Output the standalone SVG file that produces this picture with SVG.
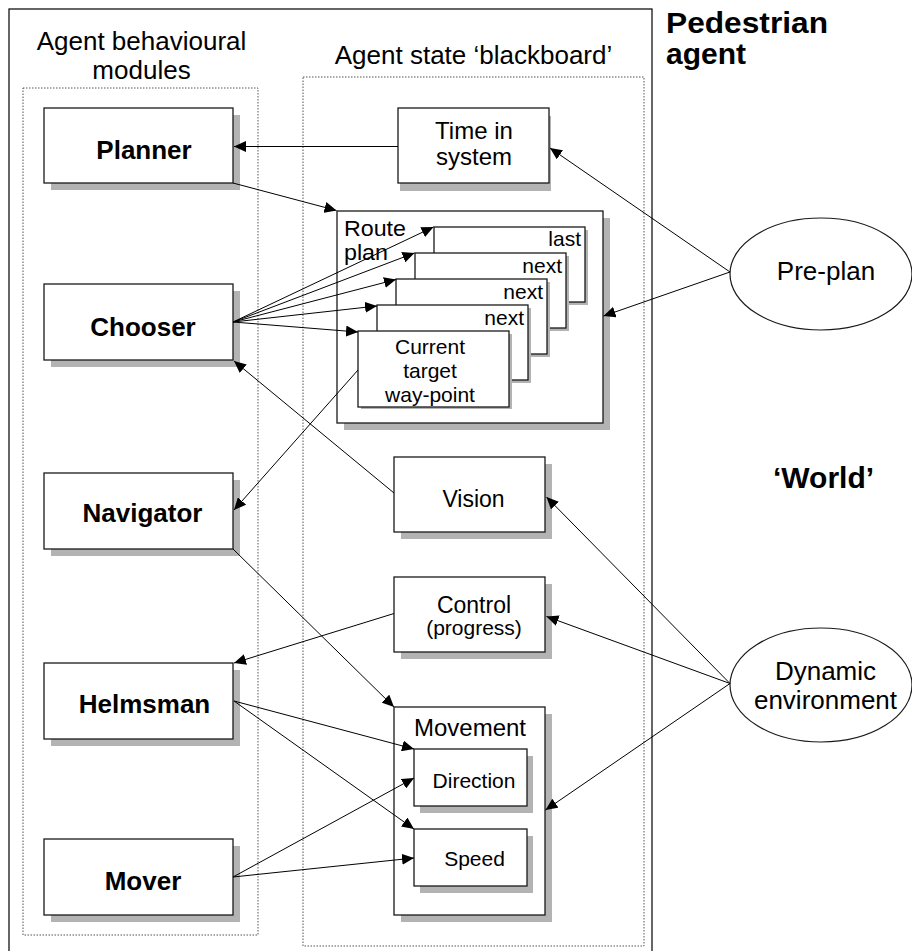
<svg xmlns="http://www.w3.org/2000/svg" width="912" height="951" viewBox="0 0 912 951">
<style>
.box{fill:#fff;stroke:#1a1a1a;stroke-width:1.3}
.sh{fill:#b3b3b3}
.dot{fill:none;stroke:#555;stroke-width:1;stroke-dasharray:1.5 1.5}
.frame{fill:none;stroke:#000;stroke-width:1.2}
.ell{fill:#fff;stroke:#1a1a1a;stroke-width:1.2}
.conn line{stroke:#000;stroke-width:1;marker-end:url(#ah)}
text{font-family:"Liberation Sans",Arial,sans-serif;fill:#000}
.b{font-weight:bold;font-size:26px;text-anchor:middle}
.t{font-size:24px;text-anchor:middle}
.s{font-size:21px;text-anchor:middle}
.r{font-size:21px;text-anchor:end}
.h{font-size:26px;text-anchor:middle}
.big{font-weight:bold;font-size:30px}
</style>
<defs>
<marker id="ah" markerUnits="userSpaceOnUse" markerWidth="12" markerHeight="11" refX="12" refY="5.5" orient="auto">
<path d="M0,0 L12,5.5 L0,11 z" fill="#000"/>
</marker>
</defs>
<rect width="912" height="951" fill="#fff"/>

<g id="pedestrian-agent">
<rect class="frame" x="9" y="9" width="643" height="960"/>
<text class="big" x="666" y="33" textLength="162" lengthAdjust="spacingAndGlyphs">Pedestrian</text>
<text class="big" x="666" y="64">agent</text>
</g>
<g id="world-label"><text class="big" x="773" y="488">‘World’</text></g>

<g id="behavioural-modules">
<rect class="dot" x="23" y="88" width="235" height="847"/>
<text class="h" x="141.5" y="50">Agent behavioural</text>
<text class="h" x="141.5" y="79">modules</text>
</g>
<g id="blackboard">
<rect class="dot" x="303" y="77" width="341" height="869"/>
<text class="h" x="473.5" y="64">Agent state ‘blackboard’</text>
</g>

<g id="planner"><rect class="sh" x="51" y="115" width="189" height="75"/><rect class="box" x="44" y="108" width="189" height="75"/><text class="b" x="144" y="159">Planner</text></g>
<g id="chooser"><rect class="sh" x="51" y="291" width="189" height="76"/><rect class="box" x="44" y="284" width="189" height="76"/><text class="b" x="143" y="336">Chooser</text></g>
<g id="navigator"><rect class="sh" x="51" y="480" width="189" height="76"/><rect class="box" x="44" y="473" width="189" height="76"/><text class="b" x="142.5" y="522">Navigator</text></g>
<g id="helmsman"><rect class="sh" x="51" y="670" width="189" height="76"/><rect class="box" x="44" y="663" width="189" height="76"/><text class="b" x="144.5" y="713">Helmsman</text></g>
<g id="mover"><rect class="sh" x="51" y="846" width="189" height="76"/><rect class="box" x="44" y="839" width="189" height="76"/><text class="b" x="143" y="890">Mover</text></g>

<g id="time-in-system"><rect class="sh" x="400" y="116" width="151" height="75"/><rect class="box" x="398" y="108" width="151" height="75"/><text class="t" x="474" y="139">Time in</text><text class="t" x="474" y="165">system</text></g>

<g id="route-plan">
<rect class="sh" x="344" y="218" width="266" height="212"/>
<rect class="box" x="337" y="211" width="266" height="212"/>
<text x="344" y="235.5" style="font-size:22px" textLength="62" lengthAdjust="spacingAndGlyphs">Route</text>
<text x="344" y="260" style="font-size:22px" textLength="44" lengthAdjust="spacingAndGlyphs">plan</text>
</g>
<g id="wp-last"><rect class="sh" x="437" y="230" width="151" height="75"/><rect class="box" x="434" y="227" width="151" height="75"/><text class="r" x="581" y="246">last</text></g>
<g id="wp-next-1"><rect class="sh" x="418" y="256" width="151" height="75"/><rect class="box" x="415" y="253" width="151" height="75"/><text class="r" x="562" y="272.5">next</text></g>
<g id="wp-next-2"><rect class="sh" x="399" y="282" width="151" height="75"/><rect class="box" x="396" y="279" width="151" height="75"/><text class="r" x="543" y="299">next</text></g>
<g id="wp-next-3"><rect class="sh" x="380" y="308" width="151" height="75"/><rect class="box" x="377" y="305" width="151" height="75"/><text class="r" x="524" y="325">next</text></g>
<g id="wp-current"><rect class="sh" x="361" y="334" width="151" height="75"/><rect class="box" x="358" y="331" width="151" height="76"/><text class="s" x="430" y="354">Current</text><text class="s" x="430" y="378">target</text><text class="s" x="430" y="402">way-point</text></g>

<g id="vision"><rect class="sh" x="401" y="464" width="151" height="75"/><rect class="box" x="394" y="457" width="151" height="75"/><text class="t" x="473.5" y="506.5" style="font-size:23px">Vision</text></g>
<g id="control"><rect class="sh" x="401" y="584" width="151" height="75"/><rect class="box" x="394" y="577" width="151" height="75"/><text class="t" x="474" y="612.5" style="font-size:23px">Control</text><text class="s" x="474" y="635">(progress)</text></g>

<g id="movement"><rect class="sh" x="401" y="714" width="151" height="208"/><rect class="box" x="394" y="707" width="151" height="208"/><text class="t" x="470" y="735.5">Movement</text></g>
<g id="direction"><rect class="sh" x="420" y="756" width="113" height="57"/><rect class="box" x="414" y="749" width="113" height="57"/><text class="s" x="474" y="788">Direction</text></g>
<g id="speed"><rect class="sh" x="420" y="836" width="113" height="57"/><rect class="box" x="414" y="829" width="113" height="57"/><text class="s" x="474.5" y="866">Speed</text></g>

<g id="pre-plan"><ellipse class="ell" cx="821" cy="274" rx="91" ry="56"/><text class="h" x="826" y="280">Pre-plan</text></g>
<g id="dynamic-environment"><ellipse class="ell" cx="821" cy="685" rx="91" ry="57"/><text class="h" x="825.5" y="680">Dynamic</text><text class="h" x="825.5" y="709">environment</text></g>

<g id="connectors" class="conn">
<line x1="398" y1="146.5" x2="234" y2="146.5"/>
<line x1="233" y1="183" x2="336.5" y2="210.5"/>
<line x1="730" y1="272" x2="550" y2="148"/>
<line x1="730" y1="272" x2="603.5" y2="316"/>
<line x1="233" y1="322" x2="433.5" y2="227"/>
<line x1="233" y1="322" x2="414.5" y2="253"/>
<line x1="233" y1="322" x2="396" y2="279.5"/>
<line x1="233" y1="322" x2="377" y2="306"/>
<line x1="233" y1="322" x2="358" y2="332"/>
<line x1="358" y1="370" x2="234" y2="510"/>
<line x1="394" y1="493" x2="234" y2="361"/>
<line x1="730" y1="683.5" x2="546.5" y2="497"/>
<line x1="730" y1="683.5" x2="546.5" y2="616.5"/>
<line x1="730" y1="683.5" x2="545.5" y2="810"/>
<line x1="394" y1="613.5" x2="234" y2="663"/>
<line x1="233" y1="549" x2="394" y2="707"/>
<line x1="234" y1="701" x2="414" y2="749"/>
<line x1="234" y1="701" x2="414" y2="829"/>
<line x1="233" y1="877" x2="414" y2="778"/>
<line x1="233" y1="877" x2="414" y2="858"/>
</g>
</svg>
